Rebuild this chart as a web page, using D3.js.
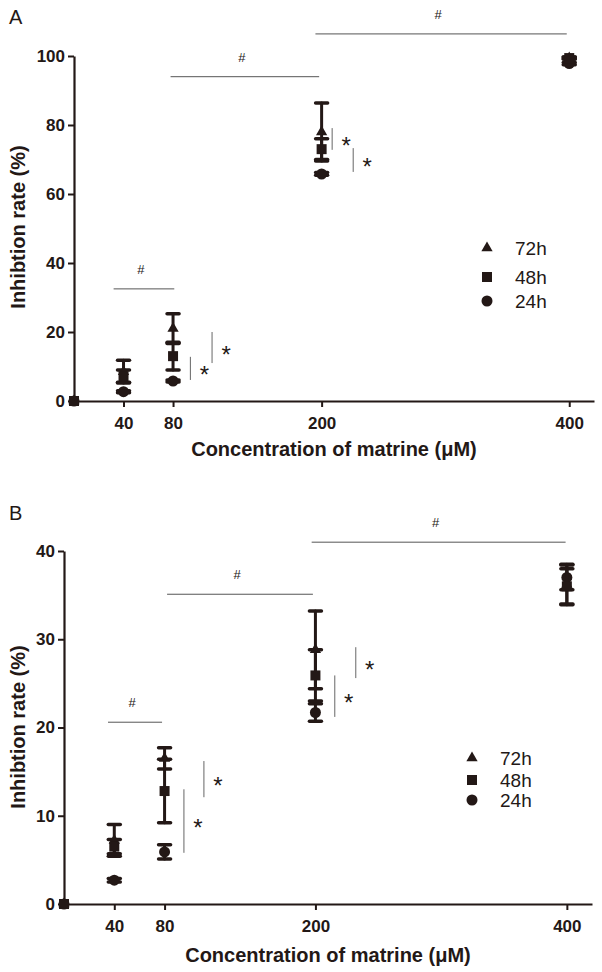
<!DOCTYPE html>
<html>
<head>
<meta charset="utf-8">
<script src="https://cdn.jsdelivr.net/npm/d3@7"></script>
<style>
body { margin: 0; background: #fff; }
svg text { font-family: "Liberation Sans", Arial, sans-serif; }
</style>
</head>
<body>
<script>
const width = 602;
const height = 972;
const ink = '#231816';

// shared
const conc = [0, 40, 80, 200, 400];
const xTicks = [40, 80, 200, 400];
const seriesNames = ['72h', '48h', '24h'];

// panel A
const aTicks = [0, 20, 40, 60, 80, 100];
const a72 = [0, 8.5, 21, 78, 99.4];
const a72sd = [0, 3.3, 4.3, 8.4, 0.3];
const a48 = [0, 7.2, 13, 73, 99.4];
const a48sd = [0, 1.8, 4, 3, 0.3];
const a24 = [0, 2.7, 5.8, 65.8, 97.8];
const a24sd = [0, 0.3, 0.3, 0.4, 0.3];
// # brackets: [x1, x2, y]
const aHash = [[32, 81, 32.5], [78, 198, 94], [195, 398, 106.4]];
// * lines: [x, y1, y2]
const aStar = [[94, 6.1, 12.8], [111.5, 11, 20], [208.5, 72.8, 79.1], [225.5, 66.4, 73.3]];

// panel B
const bTicks = [0, 10, 20, 30, 40];
const b72 = [0, 7.2, 16.5, 28.8, 36.2];
const b72sd = [0, 1.8, 1.2, 4.4, 2.3];
const b48 = [0, 6.5, 12.8, 25.9, 36.0];
const b48sd = [0, 0.8, 3.6, 2.9, 2.0];
const b24 = [0, 2.7, 5.9, 21.7, 37.0];
const b24sd = [0, 0.2, 0.8, 1.0, 1.4];
const bHash = [[35, 78, 20.6], [82, 198, 35.1], [197, 399, 41.0]];
const bStar = [[95.4, 5.8, 13.0], [111.3, 12.1, 16.2], [215.4, 21.2, 25.9], [232.1, 25.6, 29.1]];

const svg = d3.select('body')
  .append('svg')
  .attr('width', width)
  .attr('height', height);

const symbols = {
  '72h': d3.symbol().type(d3.symbolTriangle).size(55),
  '48h': d3.symbol().type(d3.symbolSquare).size(100),
  '24h': d3.symbol().type(d3.symbolCircle).size(95)
};

function drawPanel(p) {
  const x = d3.scaleLinear().domain([0, 420]).range([p.left, p.right]);
  const y = d3.scaleLinear().domain([0, p.yMax]).range([p.bottom, p.top]);
  const g = svg.append('g');

  // panel letter
  g.append('text').attr('x', p.letterX).attr('y', p.letterY)
    .attr('font-size', 20).attr('fill', ink).text(p.letter);

  // axes
  const yAxis = d3.axisLeft(y).tickValues(p.ticks).tickSize(6).tickSizeOuter(0).tickPadding(3);
  const xAxis = d3.axisBottom(x).tickValues(xTicks).tickSize(6).tickSizeOuter(0).tickPadding(10);

  const gy = g.append('g').attr('transform', `translate(${x(0)},0)`).call(yAxis);
  const gx = g.append('g').attr('transform', `translate(0,${y(0)})`).call(xAxis);
  [gx, gy].forEach(a => {
    a.attr('font-family', null);
    a.select('.domain').attr('stroke', ink).attr('stroke-width', 2.2);
    a.selectAll('.tick line').attr('stroke', ink).attr('stroke-width', 2);
    a.selectAll('.tick text').attr('fill', ink).attr('font-size', 17)
      .attr('font-weight', 'bold');
  });

  // titles
  g.append('text')
    .attr('transform', `translate(25,${p.yTitleY}) rotate(-90)`)
    .attr('text-anchor', 'middle').attr('font-size', 20).attr('font-weight', 'bold')
    .attr('fill', ink).text('Inhibtion rate (%)');
  g.append('text')
    .attr('x', p.xTitleX).attr('y', p.xTitleY)
    .attr('text-anchor', 'middle').attr('font-size', 20).attr('font-weight', 'bold')
    .attr('fill', ink).text('Concentration of matrine (\u03bcM)');

  // # brackets
  p.hash.forEach(h => {
    g.append('line').attr('x1', x(h[0])).attr('x2', x(h[1]))
      .attr('y1', y(h[2])).attr('y2', y(h[2]))
      .attr('stroke', '#555').attr('stroke-width', 1);
    g.append('text').attr('x', (x(h[0]) + x(h[1])) / 2 - 3).attr('y', y(h[2]) - 15)
      .attr('text-anchor', 'middle').attr('font-size', 13).attr('fill', ink).text('#');
  });

  // * markers
  p.star.forEach(s => {
    g.append('line').attr('x1', x(s[0])).attr('x2', x(s[0]))
      .attr('y1', y(s[1])).attr('y2', y(s[2]))
      .attr('stroke', '#666').attr('stroke-width', 1);
    g.append('text').attr('x', x(s[0]) + 14).attr('y', (y(s[1]) + y(s[2])) / 2 + 15)
      .attr('text-anchor', 'middle').attr('font-size', 24).attr('fill', ink).text('*');
  });

  // data: 72h first, then 24h, 48h on top
  const order = [0, 2, 1];
  order.forEach(i => {
    const name = seriesNames[i];
    const pts = conc.map((c, j) => ({ c, m: p.means[i][j], sd: p.sds[i][j] }));
    const eb = g.append('g').attr('stroke', ink).attr('stroke-linecap', 'round');
    pts.filter(d => d.sd > 0).forEach(d => {
      eb.append('line').attr('x1', x(d.c)).attr('x2', x(d.c))
        .attr('y1', y(d.m - d.sd)).attr('y2', y(d.m + d.sd)).attr('stroke-width', 3);
      [d.m - d.sd, d.m + d.sd].forEach(v => {
        eb.append('line').attr('x1', x(d.c) - 6).attr('x2', x(d.c) + 6)
          .attr('y1', y(v)).attr('y2', y(v)).attr('stroke-width', 3.5);
      });
    });
    g.selectAll(null).data(pts).enter().append('path')
      .attr('transform', d => `translate(${x(d.c)},${y(d.m)})`)
      .attr('d', symbols[name]).attr('fill', ink);
  });

  // legend
  seriesNames.forEach((name, i) => {
    g.append('path').attr('transform', `translate(${p.legX},${p.legY[i]})`)
      .attr('d', symbols[name]).attr('fill', ink);
    g.append('text').attr('x', p.legX + 28).attr('y', p.legY[i] + 7)
      .attr('font-size', 19).attr('fill', ink).text(name);
  });
}

drawPanel({
  letter: 'A', letterX: 9, letterY: 24,
  left: 74, right: 594, top: 56, bottom: 401, yMax: 100,
  ticks: aTicks, means: [a72, a48, a24], sds: [a72sd, a48sd, a24sd],
  hash: aHash, star: aStar,
  yTitleY: 227, xTitleX: 334, xTitleY: 456,
  legX: 487, legY: [248, 277, 301]
});

drawPanel({
  letter: 'B', letterX: 9, letterY: 520,
  left: 64, right: 592, top: 551, bottom: 904, yMax: 40,
  ticks: bTicks, means: [b72, b48, b24], sds: [b72sd, b48sd, b24sd],
  hash: bHash, star: bStar,
  yTitleY: 727, xTitleX: 328, xTitleY: 962,
  legX: 472, legY: [758, 780, 800]
});
</script>
</body>
</html>
